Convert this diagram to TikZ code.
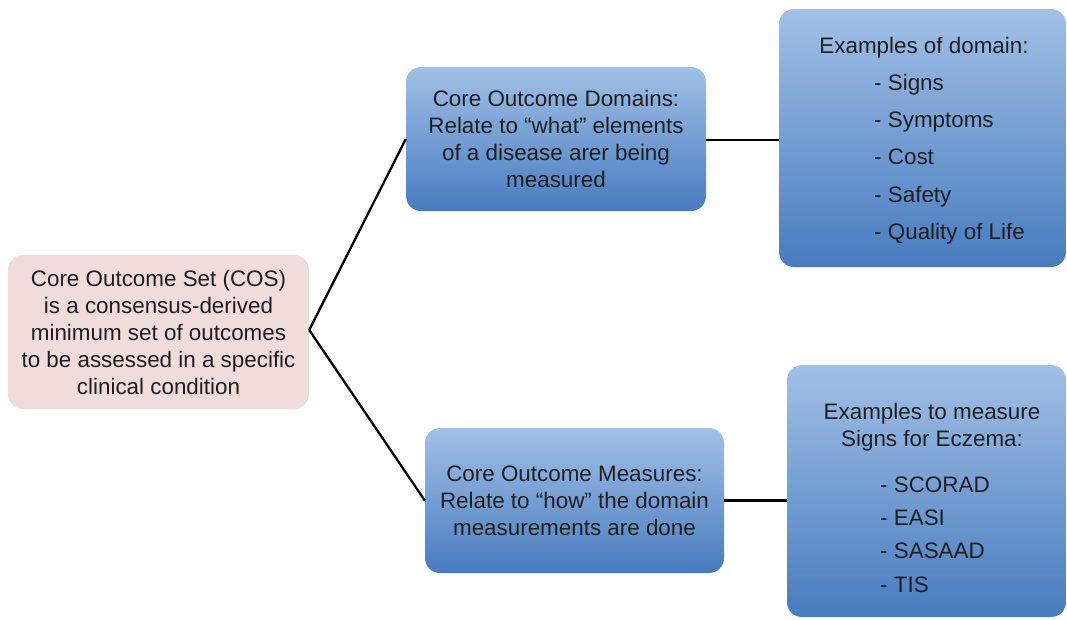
\documentclass[tikz,border=0pt]{standalone}
\usepackage{fontspec}
\setmainfont{Liberation Sans}
\definecolor{txt}{HTML}{1E1E1E}
\definecolor{pinkfill}{HTML}{F1DCDC}
\definecolor{bluetop}{HTML}{A1C0E6}
\definecolor{bluebot}{HTML}{477CBF}
\begin{document}
\begin{tikzpicture}[x=1pt,y=-1pt,
  every node/.style={text=txt,font=\fontsize{22.4}{27}\selectfont},
  box/.style={rectangle,rounded corners=15pt,inner sep=0pt,align=center},
  pinkbox/.style={box,fill=pinkfill},
  bluebox/.style={box,top color=bluetop,bottom color=bluebot},
  item/.style={anchor=base west,inner sep=0pt},
  head/.style={anchor=base,inner sep=0pt},
  link/.style={draw=black,line width=2.3pt}]
\useasboundingbox (0,0) rectangle (1067,619);

% main concept
\node[pinkbox,minimum width=301pt,minimum height=154pt] (cos) at (158.5,332)
  {Core Outcome Set (COS)\\is a consensus-derived\\minimum set of outcomes\\to be assessed in a specific\\clinical condition};

% domains and measures
\node[bluebox,minimum width=300pt,minimum height=144pt] (dom) at (556,139)
  {Core Outcome Domains:\\Relate to “what” elements\\of a disease arer being\\measured};
\node[bluebox,minimum width=299pt,minimum height=145pt] (mea) at (574.5,500.5)
  {Core Outcome Measures:\\Relate to “how” the domain\\measurements are done};

% example boxes
\node[bluebox,minimum width=287pt,minimum height=258pt] (exd) at (922.5,138) {};
\node[bluebox,minimum width=279pt,minimum height=252pt] (exm) at (926.5,491) {};

% example texts
\node[head] (exdh) at (924,53) {Examples of domain:};
\node[item] (d1) at (874,90.7) {- Signs};
\node[item] (d2) at (874,127.8) {- Symptoms};
\node[item] (d3) at (874,164.9) {- Cost};
\node[item] (d4) at (874,202) {- Safety};
\node[item] (d5) at (874,239.1) {- Quality of Life};

\node[head] (exmh1) at (932,419.3) {Examples to measure};
\node[head] (exmh2) at (932,446) {Signs for Eczema:};
\node[item] (m1) at (880,492.7) {- SCORAD};
\node[item] (m2) at (880,525.8) {- EASI};
\node[item] (m3) at (880,558.9) {- SASAAD};
\node[item] (m4) at (880,592) {- TIS};

% connectors
\coordinate (cosr) at ([yshift=2pt]cos.east);
\draw[link] (cosr) -- (dom.west);
\draw[link] (cosr) -- (mea.west);
\draw[link] ([yshift=-1pt]dom.east) -- ([yshift=-1pt]exd.west |- dom.east);
\draw[link] (mea.east) -- (exm.west |- mea.east);
\end{tikzpicture}
\end{document}
